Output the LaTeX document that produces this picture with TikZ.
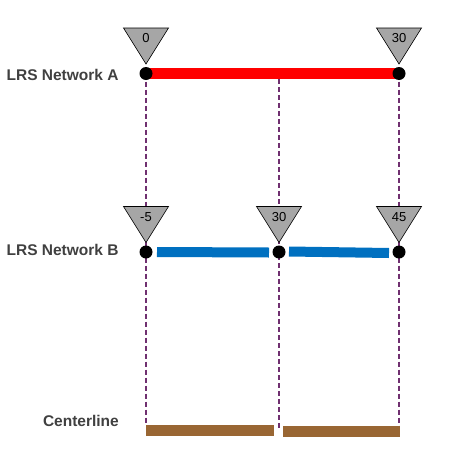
\documentclass[tikz,border=0pt]{standalone}
\usepackage{fontspec}
\setmainfont{Liberation Sans}
\usetikzlibrary{positioning, calc}
\definecolor{lrsred}{RGB}{255,0,0}
\definecolor{lrsblue}{RGB}{0,112,192}
\definecolor{lrsbrown}{RGB}{153,102,51}
\definecolor{refpurple}{RGB}{112,48,112}
\definecolor{labelgray}{RGB}{64,64,64}
\tikzset{
	x=1pt, y=-1pt,
	dot/.style={circle, fill=black, inner sep=0pt, minimum size=13pt},
	netlabel/.style={inner sep=0pt, anchor=east, text=labelgray, font=\fontsize{15.5}{18}\selectfont\bfseries},
	marker/.style={draw=black, line width=0.6pt, fill=black!35},
	markertext/.style={inner sep=0pt, font=\fontsize{13}{15}\selectfont},
	refline/.style={refpurple, line width=1.4pt, dash pattern=on 5pt off 3pt},
	bar/.style={line width=#1},
}
\newcommand{\refmark}[2]{%
	\draw[marker] ($(#1)+(0,-9.5)$) -- ++(-22.5,-36) -- ++(45,0) -- cycle;
	\node[markertext] at ($(#1)+(0,-35)$) {#2};
}

\begin{document}
\begin{tikzpicture}
			\useasboundingbox (0,0) rectangle (469,453);
			% network A
			\coordinate (A0) at (146,73.5);
			\coordinate (A1) at (399,73.5);
			\coordinate (AM) at (279,79);
			% network B
			\coordinate (B0) at (146,252);
			\coordinate (B1) at (279,252);
			\coordinate (B2) at (399,252);
			% centerline
			\coordinate (C0) at (146,430.5);
			\coordinate (C1) at (274,430.5);
			\coordinate (C2) at (283,431.5);
			\coordinate (C3) at (400,431.5);
			\coordinate (E0) at (146,425);
			\coordinate (E1) at (279,428);
			\coordinate (E2) at (399,427);
			
			\draw[refline] (A0) -- (E0);
			\draw[refline] (AM) -- (E1);
			\draw[refline] (A1) -- (E2);
			
			\draw[bar=11pt, lrsred] (A0) -- (A1);
			\coordinate (b0s) at (157,252);
			\coordinate (b0e) at (269,252.5);
			\coordinate (b1s) at (289,251.5);
			\coordinate (b1e) at (389,253);
			\draw[bar=10pt, lrsblue] (b0s) -- (b0e);
			\draw[bar=10pt, lrsblue] (b1s) -- (b1e);
			\draw[bar=11pt, lrsbrown] (C0) -- (C1);
			\draw[bar=11pt, lrsbrown] (C2) -- (C3);
			
			\refmark{A0}{0}
			\refmark{A1}{30}
			\refmark{B0}{-5}
			\refmark{B1}{30}
			\refmark{B2}{45}
			
			\node[dot] (a0) at (A0) {};
			\node[dot] (a1) at (A1) {};
			\node[dot] (b0) at (B0) {};
			\node[dot] (b1) at (B1) {};
			\node[dot] (b2) at (B2) {};
			
			\node[netlabel, left=20.5pt of a0, yshift=-1pt] (labA) {LRS Network A};
			\node[netlabel, left=20.5pt of b0, yshift=2pt] (labB) {LRS Network B};
			\node[netlabel] (labC) at (119,421) {Centerline};
		\end{tikzpicture}
\end{document}
